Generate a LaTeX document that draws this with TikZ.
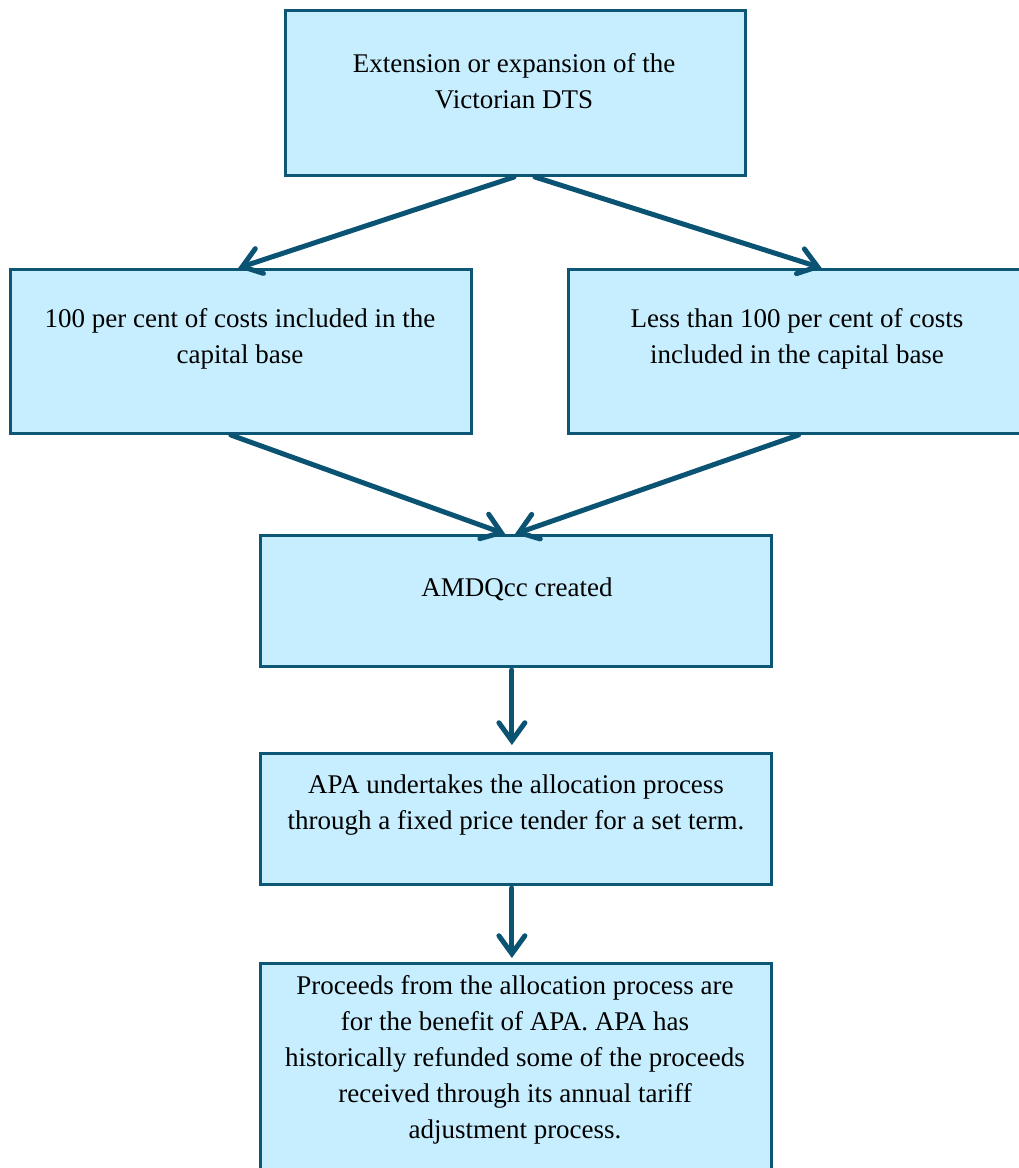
\documentclass[tikz,border=0pt]{standalone}
\usepackage{fontspec}
\setmainfont{Liberation Serif}
\usetikzlibrary{arrows.meta,calc}
\definecolor{boxfill}{HTML}{C7EEFE}
\definecolor{boxline}{HTML}{0E5676}
\definecolor{arrowc}{HTML}{0B5373}
\begin{document}
\begin{tikzpicture}[x=1pt,y=-1pt,
  box/.style={draw=boxline,fill=boxfill,line width=3pt,rectangle,inner sep=0pt,anchor=north west},
  txt/.style={font=\fontsize{27}{36}\selectfont,align=center,text=black,inner sep=0pt},
  conn/.style={draw=arrowc,line width=5pt,line cap=round,-{Straight Barb[length=18pt,width=26pt,line cap=round]}}]
\useasboundingbox (0,0) rectangle (1019,1168);
\clip (0,0) rectangle (1019,1168);
\fill[white] (0,0) rectangle (1019,1168);
% boxes
\node[box,minimum width=460pt,minimum height=165pt] (top) at (284,9) {};
\node[box,minimum width=461pt,minimum height=164pt] (left) at (9,268) {};
\node[box,minimum width=460pt,minimum height=164pt] (right) at (567,268) {};
\node[box,minimum width=511pt,minimum height=131pt] (amdq) at (259,534) {};
\node[box,minimum width=511pt,minimum height=131pt] (apa) at (259,752) {};
\node[box,minimum width=511pt,minimum height=225pt] (proc) at (259,962) {};
% texts
\node[txt] (ttop) at (514,81) {Extension or expansion of the\\Victorian DTS};
\node[txt] (tleft) at (240,339) {100 per cent of costs included in the\\capital base};
\node[txt] (tright) at (797,339) {Less than 100 per cent of costs\\included in the capital base};
\node[txt] (tamdq) at (517,589) {AMDQcc created};
\node[txt] (tapa) at (516,805) {APA undertakes the allocation process\\through a fixed price tender for a set term.};
\node[txt] (tproc) at (515,1060) {Proceeds from the allocation process are\\for the benefit of APA. APA has\\historically refunded some of the proceeds\\received through its annual tariff\\adjustment process.};
% connectors
\draw[conn] ($(top.south west)!0.497!(top.south east)$) -- ($(left.north west)!0.494!(left.north east)$);
\draw[conn] ($(top.south west)!0.542!(top.south east)$) -- ($(right.north west)!0.55!(right.north east)$);
\draw[conn] ($(left.south west)!0.478!(left.south east)$) -- ($(amdq.north west)!0.479!(amdq.north east)$);
\draw[conn] ($(right.south west)!0.5!(right.south east)$) -- ($(amdq.north west)!0.498!(amdq.north east)$);
\draw[conn,shorten <=2pt,shorten >=7pt] ($(amdq.south west)!0.492!(amdq.south east)$) -- ($(apa.north west)!0.492!(apa.north east)$);
\draw[conn,shorten <=2pt,shorten >=4pt] ($(apa.south west)!0.492!(apa.south east)$) -- ($(proc.north west)!0.492!(proc.north east)$);
\end{tikzpicture}
\end{document}
